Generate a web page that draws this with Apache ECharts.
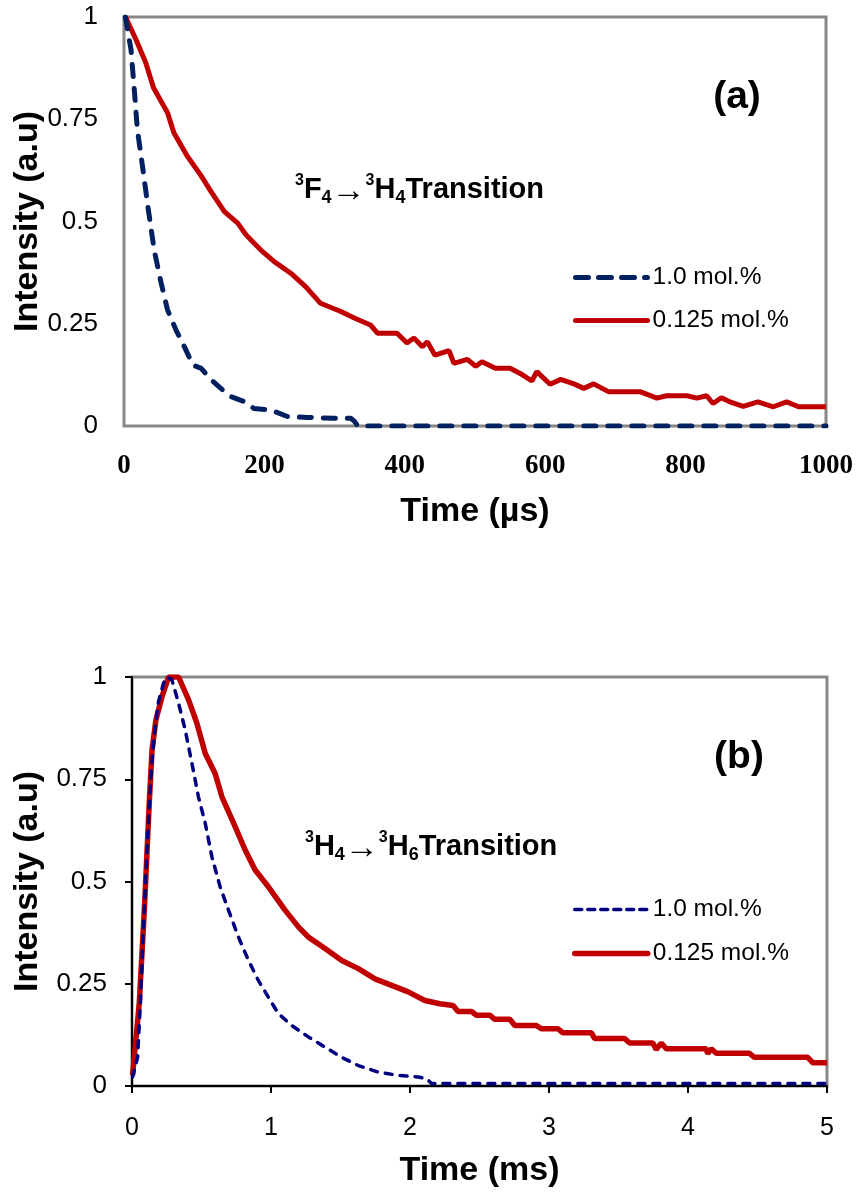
<!DOCTYPE html>
<html lang="en">
  <head>
    <meta charset="utf-8" />
    <title>Decay curves</title>
    <script src="https://cdn.jsdelivr.net/npm/echarts@6/dist/echarts.min.js"></script>
    <style>
      html, body { margin: 0; padding: 0; background: #fff; }
      #chart { width: 859px; height: 1192px; }
    </style>
  </head>
  <body>
    <div id="chart"></div>
    <script>
      // panel (a): 3F4 -> 3H4, time in us
      var timeA_high = [2, 3, 10, 15, 19, 27, 34, 43, 53, 62, 74, 86, 98, 110, 124, 138, 152, 171, 185, 209, 233, 261, 299, 323, 328, 333, 400, 500, 600, 700, 800, 900, 1000]
      var intA_high = [1.0, 0.99, 0.92, 0.815, 0.725, 0.627, 0.537, 0.43, 0.349, 0.284, 0.235, 0.194, 0.149, 0.141, 0.113, 0.092, 0.072, 0.06, 0.043, 0.039, 0.023, 0.021, 0.019, 0.019, 0.012, 0, 0, 0, 0, 0, 0, 0, 0]
      var timeA_low = [0, 3, 17, 31, 42, 62, 71, 90, 109, 124, 143, 162, 174, 195, 214, 238, 259, 280, 309, 328, 351, 361, 389, 403, 413, 425, 432, 443, 463, 470, 489, 501, 510, 529, 550, 565, 581, 588, 607, 622, 641, 655, 669, 690, 735, 759, 773, 802, 816, 830, 839, 851, 863, 882, 903, 925, 944, 961, 1000]
      var intA_low = [1.0, 0.997, 0.945, 0.888, 0.827, 0.766, 0.717, 0.66, 0.614, 0.573, 0.524, 0.496, 0.467, 0.43, 0.402, 0.373, 0.34, 0.3, 0.28, 0.264, 0.247, 0.227, 0.227, 0.203, 0.215, 0.194, 0.206, 0.173, 0.184, 0.153, 0.163, 0.146, 0.157, 0.141, 0.141, 0.128, 0.11, 0.133, 0.102, 0.114, 0.103, 0.092, 0.103, 0.084, 0.084, 0.068, 0.074, 0.074, 0.068, 0.074, 0.055, 0.069, 0.059, 0.048, 0.059, 0.047, 0.059, 0.047, 0.047]

      // panel (b): 3H4 -> 3H6, time in ms
      var timeB_high = [0.004, 0.04, 0.06, 0.08, 0.1, 0.12, 0.14, 0.167, 0.191, 0.227, 0.251, 0.287, 0.335, 0.383, 0.431, 0.478, 0.527, 0.575, 0.634, 0.694, 0.766, 0.838, 0.909, 0.981, 1.053, 1.149, 1.269, 1.389, 1.509, 1.628, 1.772, 1.915, 2.059, 2.119, 2.155, 3, 4, 5]
      var intB_high = [0.022, 0.07, 0.2, 0.37, 0.52, 0.66, 0.78, 0.88, 0.94, 0.985, 1.0, 0.993, 0.936, 0.87, 0.789, 0.707, 0.642, 0.56, 0.487, 0.43, 0.364, 0.307, 0.258, 0.217, 0.177, 0.148, 0.12, 0.095, 0.07, 0.05, 0.034, 0.026, 0.022, 0.018, 0.006, 0.006, 0.006, 0.006]
      var timeB_low = [0.004, 0.052, 0.091, 0.124, 0.144, 0.172, 0.216, 0.251, 0.263, 0.335, 0.407, 0.467, 0.527, 0.598, 0.647, 0.742, 0.814, 0.886, 0.981, 1.101, 1.197, 1.269, 1.389, 1.509, 1.628, 1.748, 1.868, 1.987, 2.107, 2.215, 2.31, 2.346, 2.443, 2.478, 2.574, 2.61, 2.718, 2.754, 2.909, 2.945, 3.065, 3.1, 3.305, 3.329, 3.544, 3.58, 3.747, 3.771, 3.807, 3.843, 4.131, 4.142, 4.167, 4.203, 4.442, 4.478, 4.861, 4.897, 5.0]
      var intB_low = [0.026, 0.201, 0.446, 0.691, 0.821, 0.895, 0.952, 0.988, 1.0, 1.0, 0.944, 0.887, 0.813, 0.764, 0.707, 0.634, 0.577, 0.528, 0.487, 0.43, 0.389, 0.364, 0.336, 0.307, 0.287, 0.262, 0.246, 0.23, 0.209, 0.201, 0.197, 0.182, 0.182, 0.173, 0.173, 0.163, 0.163, 0.148, 0.148, 0.14, 0.14, 0.13, 0.13, 0.116, 0.116, 0.105, 0.105, 0.089, 0.105, 0.091, 0.091, 0.079, 0.091, 0.08, 0.08, 0.07, 0.07, 0.057, 0.057]

      var yTicks = [0, 0.25, 0.5, 0.75, 1]
      var legendNames = ['1.0 mol.%', '0.125 mol.%']

      var SANS = 'Liberation Sans, Arial, sans-serif'
      var SERIF = 'Liberation Serif, Times New Roman, serif'

      var NAVY_A = '#002060'
      var NAVY_B = '#000080'
      var RED = '#C00000'

      function pairs (xs, ys) {
        return xs.map(function (x, i) { return [x, ys[i]] })
      }

      var chart = echarts.init(document.getElementById('chart'), null, { renderer: 'canvas' })

      var yAxisBase = function (grid, gap, black) {
        return {
          gridIndex: grid,
          type: 'value',
          min: yTicks[0],
          max: yTicks[yTicks.length - 1],
          interval: 0.25,
          name: 'Intensity (a.u)',
          nameLocation: 'middle',
          nameGap: gap,
          nameMoveOverlap: false,
          nameTextStyle: { fontFamily: SANS, fontWeight: 'bold', fontSize: 34, color: '#000' },
          axisLine: { show: black, lineStyle: { color: '#000', width: 2 } },
          axisTick: { show: black, length: 7, lineStyle: { color: '#000', width: 2 } },
          axisLabel: { fontFamily: SANS, fontSize: 26, color: '#000', margin: black ? 25 : 26 },
          splitLine: { show: false }
        }
      }

      var sup = { fontFamily: SANS, fontWeight: 'bold', fontSize: 16, lineHeight: 16, verticalAlign: 'top', color: '#000' }
      var sub = { fontFamily: SANS, fontWeight: 'bold', fontSize: 18, lineHeight: 18, verticalAlign: 'bottom', color: '#000' }
      var main = { fontFamily: SANS, fontWeight: 'bold', fontSize: 29, lineHeight: 34, color: '#000' }
      var arrow = { fontFamily: SANS, fontWeight: 'normal', fontSize: 34, lineHeight: 34, color: '#000', padding: [4, 0, 0, 0] }

      var legendText = { fontFamily: SANS, fontSize: 24.5, color: '#000' }

      var option = {
        animation: false,
        backgroundColor: '#fff',
        grid: [
          { left: 124, top: 17, width: 702, height: 409, outerBoundsMode: 'none', containLabel: false, show: true, borderColor: '#878787', borderWidth: 3, backgroundColor: 'transparent' },
          { left: 132, top: 677, width: 695, height: 409, outerBoundsMode: 'none', containLabel: false, show: true, borderColor: '#878787', borderWidth: 3, backgroundColor: 'transparent' }
        ],
        xAxis: [
          {
            gridIndex: 0,
            type: 'value',
            min: 0,
            max: 1000,
            interval: 200,
            name: 'Time (µs)',
            nameLocation: 'middle',
            nameGap: 69,
            nameMoveOverlap: false,
            nameTextStyle: { fontFamily: SANS, fontWeight: 'bold', fontSize: 34, color: '#000' },
            axisLine: { show: false },
            axisTick: { show: false },
            axisLabel: { fontFamily: SERIF, fontWeight: 'bold', fontSize: 27, color: '#000', margin: 27, formatter: function (v) { return String(v) } },
            splitLine: { show: false }
          },
          {
            gridIndex: 1,
            type: 'value',
            min: 0,
            max: 5,
            interval: 1,
            name: 'Time (ms)',
            nameLocation: 'middle',
            nameGap: 68,
            nameMoveOverlap: false,
            nameTextStyle: { fontFamily: SANS, fontWeight: 'bold', fontSize: 34, color: '#000' },
            axisLine: { show: true, lineStyle: { color: '#000', width: 2 } },
            axisTick: { show: true, length: 7, lineStyle: { color: '#000', width: 2 } },
            axisLabel: { fontFamily: SANS, fontSize: 25, color: '#000', margin: 30 },
            splitLine: { show: false }
          }
        ],
        yAxis: [yAxisBase(0, 79, false), yAxisBase(1, 87, true)],
        legend: [
          {
            orient: 'vertical',
            left: 573,
            top: 265,
            padding: 0,
            itemWidth: 72,
            itemHeight: 14,
            itemGap: 18,
            selectedMode: false,
            textStyle: legendText,
            data: [
              { name: legendNames[0], itemStyle: { opacity: 0 }, lineStyle: { color: NAVY_A, width: 5, type: [13, 10], cap: 'round' } },
              { name: legendNames[1], itemStyle: { opacity: 0 }, lineStyle: { color: RED, width: 5, type: 'solid', cap: 'round' } }
            ]
          },
          {
            orient: 'vertical',
            left: 572,
            top: 897,
            padding: 0,
            itemWidth: 73,
            itemHeight: 14,
            itemGap: 19,
            selectedMode: false,
            textStyle: legendText,
            formatter: function (n) { return n.trim() },
            data: [
              { name: legendNames[0] + ' ', itemStyle: { opacity: 0 }, lineStyle: { color: NAVY_B, width: 3.5, type: [7, 6], cap: 'round' } },
              { name: legendNames[1] + ' ', itemStyle: { opacity: 0 }, lineStyle: { color: RED, width: 5.5, type: 'solid', cap: 'round' } }
            ]
          }
        ],
        graphic: [
          { type: 'text', x: 737, y: 97, style: { text: '(a)', fontFamily: SANS, fontWeight: 'bold', fontSize: 39, fill: '#000', textAlign: 'center', textVerticalAlign: 'middle' } },
          { type: 'text', x: 739, y: 757, style: { text: '(b)', fontFamily: SANS, fontWeight: 'bold', fontSize: 39, fill: '#000', textAlign: 'center', textVerticalAlign: 'middle' } },
          {
            type: 'text', x: 295, y: 190,
            style: {
              text: '{s|3}{m|F}{d|4}{r|→}{s|3}{m|H}{d|4}{m|Transition}',
              rich: { s: sup, d: sub, m: main, r: arrow },
              textAlign: 'left', textVerticalAlign: 'middle'
            }
          },
          {
            type: 'text', x: 305, y: 847,
            style: {
              text: '{s|3}{m|H}{d|4}{r|→}{s|3}{m|H}{d|6}{m|Transition}',
              rich: { s: sup, d: sub, m: main, r: arrow },
              textAlign: 'left', textVerticalAlign: 'middle'
            }
          }
        ],
        series: [
          {
            name: legendNames[0], type: 'line', xAxisIndex: 0, yAxisIndex: 0,
            data: pairs(timeA_high, intA_high), showSymbol: false, symbol: 'none',
            color: NAVY_A,
            lineStyle: { color: NAVY_A, width: 5, type: [12, 12], cap: 'round' }, z: 3
          },
          {
            name: legendNames[1], type: 'line', xAxisIndex: 0, yAxisIndex: 0,
            data: pairs(timeA_low, intA_low), showSymbol: false, symbol: 'none',
            color: RED,
            lineStyle: { color: RED, width: 5 }, z: 2
          },
          {
            name: legendNames[0] + ' ', type: 'line', xAxisIndex: 1, yAxisIndex: 1,
            data: pairs(timeB_high, intB_high), showSymbol: false, symbol: 'none',
            color: NAVY_B,
            lineStyle: { color: NAVY_B, width: 3.5, type: [7, 8], cap: 'round' }, z: 3
          },
          {
            name: legendNames[1] + ' ', type: 'line', xAxisIndex: 1, yAxisIndex: 1,
            data: pairs(timeB_low, intB_low), showSymbol: false, symbol: 'none',
            color: RED,
            lineStyle: { color: RED, width: 5.5 }, z: 2
          }
        ]
      }

      chart.setOption(option)
    </script>
  </body>
</html>
